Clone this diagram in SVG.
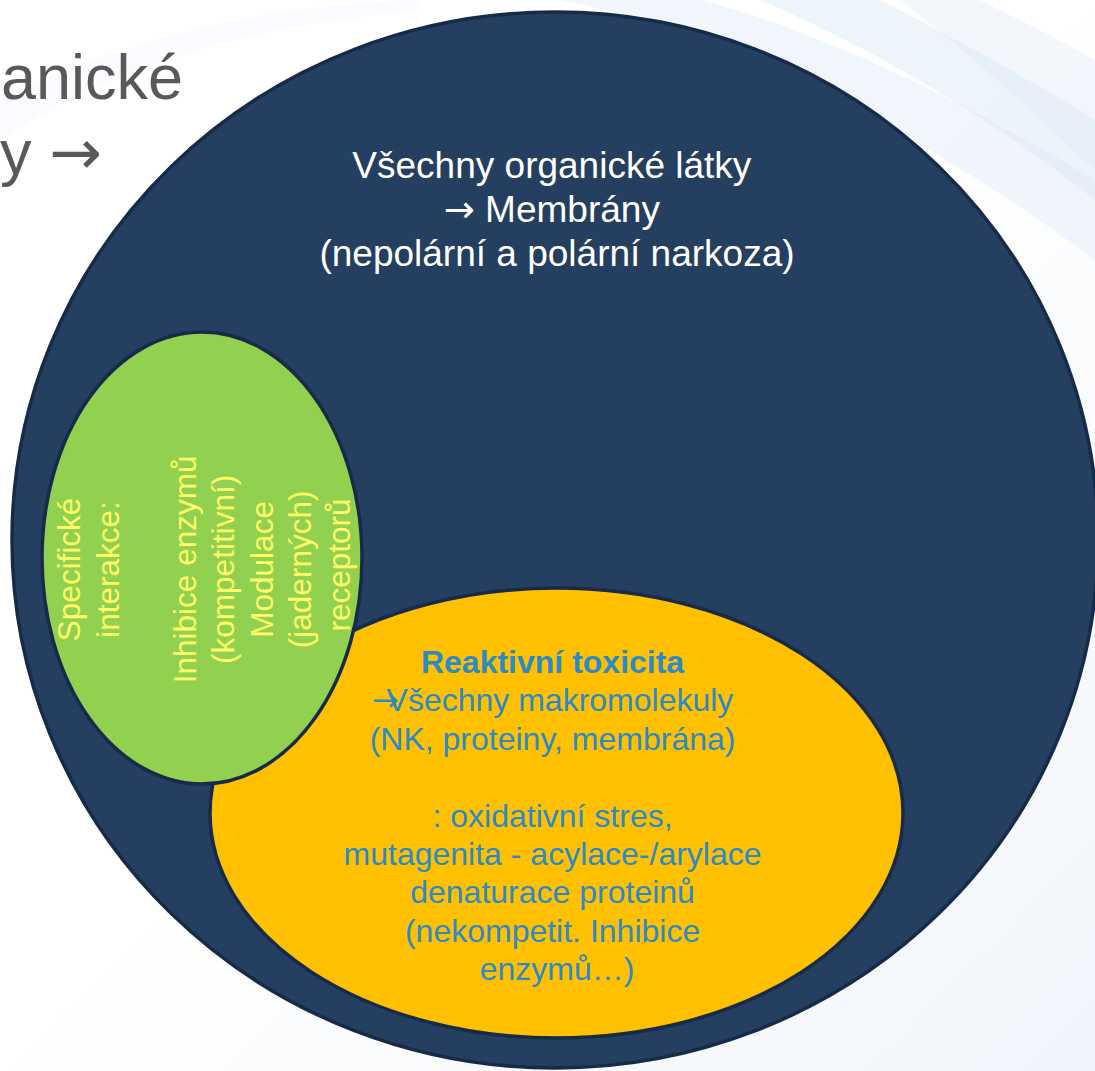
<svg xmlns="http://www.w3.org/2000/svg" width="1095" height="1071" viewBox="0 0 1095 1071">
  <defs>
    <linearGradient id="bg" x1="0" y1="0" x2="1" y2="1">
      <stop offset="0" stop-color="#FFFFFF"/>
      <stop offset="0.5" stop-color="#FFFFFF"/>
      <stop offset="1" stop-color="#F1F5FB"/>
    </linearGradient>
    <style>
      .ring { stroke: #172B49; stroke-width: 3.5; }
      .white { font-family: "Liberation Sans", Arial, sans-serif; font-size: 37px; fill: #FFFFFF; text-anchor: middle; }
      .grey { font-family: "Liberation Sans", Arial, sans-serif; font-size: 63px; fill: #595959; }
      .green { font-family: "Liberation Sans", Arial, sans-serif; font-size: 31.5px; fill: #FFFF66; text-anchor: middle; }
      .blue { font-family: "Liberation Sans", Arial, sans-serif; font-size: 32px; fill: #2C8AC6; text-anchor: middle; }
      .arrow { font-family: "DejaVu Sans", sans-serif; }
      .swoosh { fill: #D6E6F5; }
    </style>
  </defs>

  <g id="background">
    <rect x="0" y="0" width="1095" height="1071" fill="url(#bg)"/>
    <path class="swoosh" opacity="0.35" d="M560 0 C 760 40, 960 160, 1095 260 L 1095 180 C 980 110, 820 30, 700 0 Z"/>
    <path class="swoosh" opacity="0.45" d="M760 0 C 900 60, 1020 140, 1095 200 L 1095 120 C 1030 80, 940 30, 880 0 Z"/>
    <path class="swoosh" opacity="0.3" d="M900 0 C 980 60, 1050 130, 1095 170 L 1095 60 C 1060 40, 1010 15, 980 0 Z"/>
    <path class="swoosh" opacity="0.15" d="M0 140 C 120 60, 260 25, 420 10 L 420 0 C 260 5, 120 40, 0 100 Z"/>
    <text class="grey" x="1" y="99">anické</text>
    <text class="grey" x="0" y="174">y <tspan class="arrow">→</tspan></text>
  </g>

  <g id="node-organic">
    <ellipse class="ring" cx="555" cy="540" rx="543" ry="528" fill="#243F60"/>
    <text class="white">
      <tspan x="557" y="178">Všechny organické látky</tspan>
      <tspan x="557" y="222"><tspan class="arrow">→</tspan> Membrány</tspan>
      <tspan x="557" y="266">(nepolární a polární narkoza)</tspan>
    </text>
  </g>

  <g id="node-reactive">
    <ellipse class="ring" cx="556.5" cy="813" rx="346.5" ry="225" fill="#FFC000"/>
    <text class="blue">
      <tspan x="557" y="673" font-weight="bold">Reaktivní toxicita</tspan>
      <tspan x="557" y="711"><tspan class="arrow">→</tspan><tspan dx="-12">Všechny makromolekuly</tspan></tspan>
      <tspan x="557" y="750">(NK, proteiny, membrána)</tspan>
      <tspan x="557" y="827">: oxidativní stres,</tspan>
      <tspan x="557" y="865">mutagenita - acylace-/arylace</tspan>
      <tspan x="557" y="903">denaturace proteinů</tspan>
      <tspan x="557" y="942">(nekompetit. Inhibice</tspan>
      <tspan x="557" y="980">enzymů…)</tspan>
    </text>
  </g>

  <g id="node-specific">
    <ellipse class="ring" cx="202" cy="558" rx="160" ry="226" fill="#92D050"/>
    <g transform="translate(0 565) rotate(-90)">
      <text class="green">
        <tspan x="0" y="80">Specifické</tspan>
        <tspan x="0" y="118.5">interakce:</tspan>
        <tspan x="0" y="195.5">Inhibice enzymů</tspan>
        <tspan x="0" y="234">(kompetitivní)</tspan>
        <tspan x="0" y="272.5">Modulace</tspan>
        <tspan x="0" y="311">(jaderných)</tspan>
        <tspan x="0" y="349.5">receptorů</tspan>
      </text>
    </g>
  </g>

  <g id="connectors"></g>
</svg>
